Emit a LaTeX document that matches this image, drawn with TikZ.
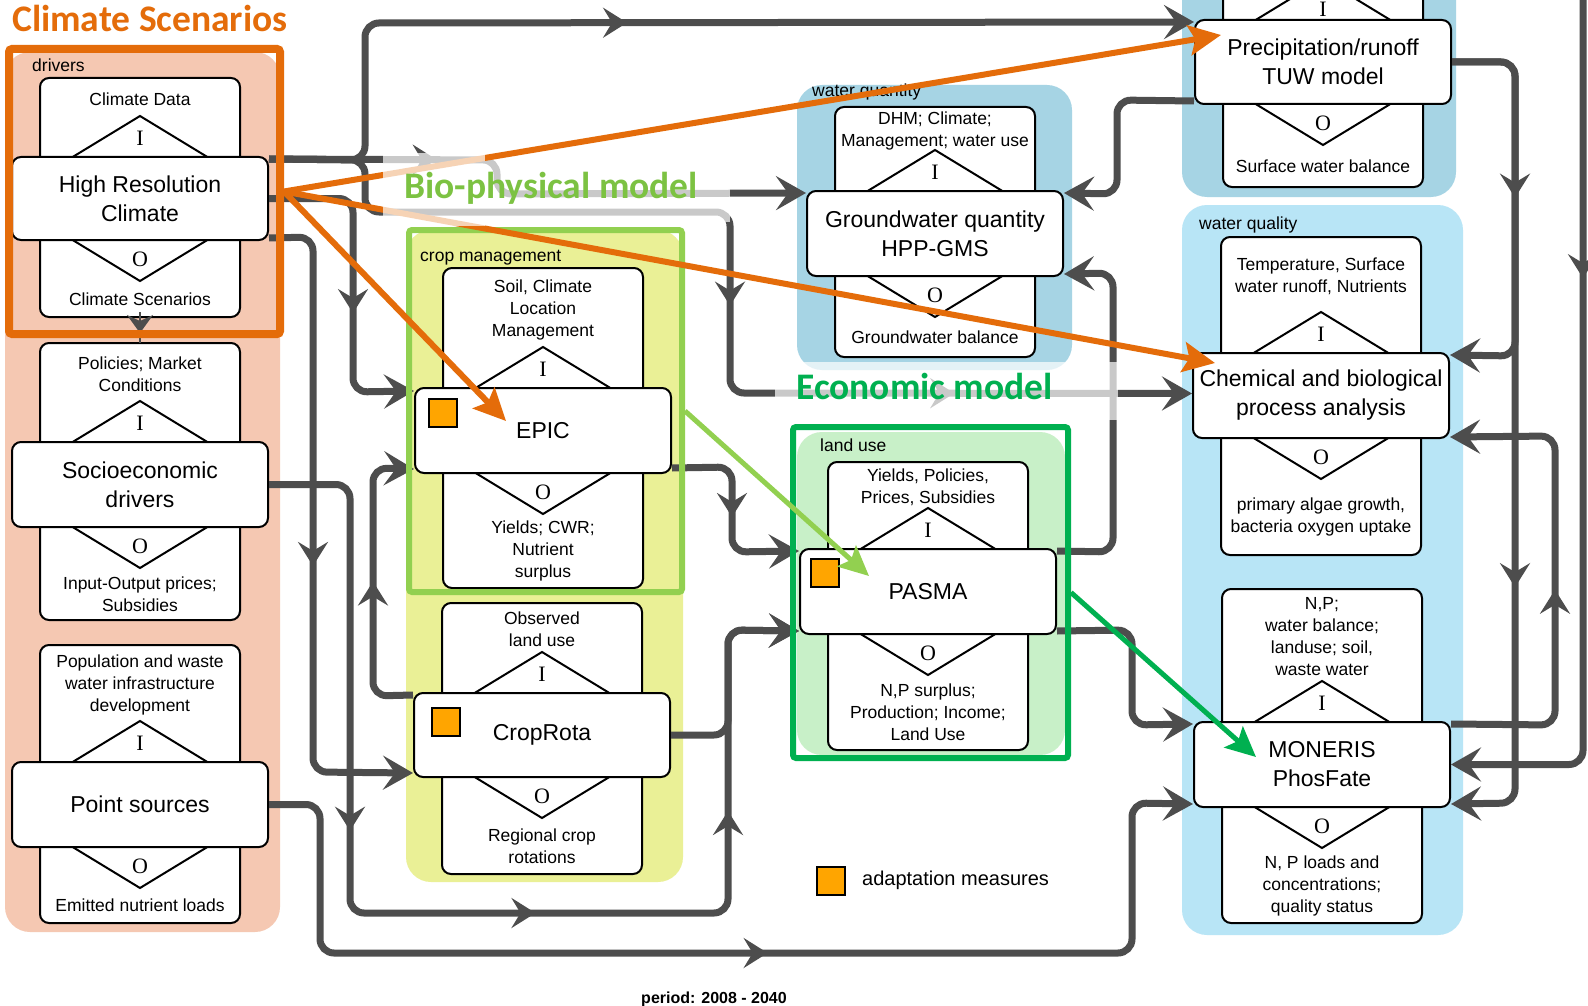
\documentclass[tikz,border=0pt]{standalone}
\usepackage{fontspec}
\setmainfont{Liberation Sans}
\newfontfamily\serifIO{Liberation Serif}
\newfontfamily\titlefam{Carlito}
\usetikzlibrary{arrows.meta,calc,decorations.markings}
\definecolor{lineg}{RGB}{77,77,77}
\definecolor{orng}{RGB}{228,108,10}
\definecolor{lgreen}{RGB}{146,208,80}
\definecolor{dgreen}{RGB}{0,176,80}
\definecolor{biotitle}{RGB}{124,194,66}
\definecolor{pinkc}{RGB}{245,200,178}
\definecolor{yelc}{RGB}{234,240,150}
\definecolor{bluec}{RGB}{166,212,228}
\definecolor{lbluec}{RGB}{184,229,246}
\definecolor{lgrnc}{RGB}{200,240,200}
\definecolor{adaptc}{RGB}{255,165,0}
\newcommand\mainsz{\fontsize{23}{29}\selectfont}
\newcommand\smallsz{\fontsize{17.5}{22}\selectfont}
\newcommand\iosz{\serifIO\fontsize{22}{24}\selectfont}
\newcommand\legsz{\fontsize{20}{24}\selectfont}
\newcommand\titlesz{\titlefam\bfseries\fontsize{37.5}{40}\selectfont}
\tikzset{
  grpbg/.style={fill=#1, draw=none, rounded corners=25pt, inner sep=0pt, outer sep=0pt},
  outerbox/.style={draw=black, line width=2pt, fill=white, rounded corners=9pt},
  widebox/.style={draw=black, line width=2pt, fill=white, rounded corners=9pt, minimum width=256pt, inner sep=0pt, align=center, font=\mainsz},
  diam/.style={draw=black, line width=2pt},
  smalltxt/.style={align=center, font=\smallsz, inner sep=0pt},
  iolbl/.style={font=\iosz, inner sep=0pt},
  grplbl/.style={font=\smallsz, anchor=base west, inner sep=0pt},
  conn/.style={draw=lineg, line width=7pt, rounded corners=14pt, -{Stealth[length=30pt,width=34pt,inset=12pt]}},
  midarr/.style={postaction={decorate, decoration={markings, mark=at position #1 with {\arrow[color=lineg]{Stealth[length=24pt,width=30pt,inset=9pt]}}}}},
  oarrow/.style={draw=orng, line width=6pt, -{Stealth[length=32pt,width=30pt,inset=6pt]}},
  garrow/.style={line width=5pt, -{Stealth[length=30pt,width=28pt,inset=6pt]}},
  adapt/.style={draw=black, line width=2pt, fill=adaptc, minimum size=28pt, inner sep=0pt},
  framebox/.style={draw=#1, inner sep=0pt, rounded corners=3pt},
  fadebox/.style={fill=white, fill opacity=0.7}
}
% #1 name, #2 cx, #3 outer top, #4 outer bottom, #5 wide top, #6 wide bottom, #7 main, #8 input, #9 output
\newcommand{\modbox}[9]{%
  \draw[outerbox] ({#2-100},#3) rectangle ({#2+100},#4);
  \coordinate (#1-ot) at (#2,#3);
  \coordinate (#1-ob) at (#2,#4);
  \draw[diam] ({#2-69},{#5+1}) -- (#2,{#5-41}) -- ({#2+69},{#5+1});
  \draw[diam] ({#2-69},{#6-1}) -- (#2,{#6+41}) -- ({#2+69},{#6-1});
  \node[widebox, minimum height={(#6-#5)*1pt}] (#1) at (#2,{(#5+#6)/2}) {#7};
  \node[iolbl] (#1-i) at (#2,{max(#5-19,9)}) {I};
  \node[iolbl] (#1-o) at (#2,{#6+19}) {O};
  \node[smalltxt] (#1-in) at (#2,{(#3+#5-41)/2+2}) {#8};
  \node[smalltxt] (#1-out) at (#2,{(#6+41+#4)/2}) {#9};
}
\begin{document}
\begin{tikzpicture}[x=1pt,y=-1pt]
\useasboundingbox (0,0) rectangle (1588,1006);
\clip (0,0) rectangle (1588,1006);
\fill[white] (0,0) rectangle (1588,1006);

% group backgrounds
\node[grpbg=pinkc, minimum width=275pt, minimum height=880pt] (g-drivers) at (142.5,492) {};
\node[grpbg=yelc, minimum width=277pt, minimum height=652pt] (g-crop) at (544.5,556) {};
\node[grpbg=bluec, minimum width=275pt, minimum height=285pt] (g-wqty) at (934.5,227.5) {};
\node[grpbg=bluec, minimum width=274pt, minimum height=227pt] (g-prec) at (1319,83.5) {};
\node[grpbg=lbluec, minimum width=281pt, minimum height=730pt] (g-wqual) at (1322.5,570) {};
\node[grpbg=lgrnc, minimum width=268pt, minimum height=323pt] (g-land) at (931,593.5) {};

\node[grplbl] (l-drivers) at (32,72) {drivers};
\node[grplbl] (l-crop) at (420,261) {crop management};
\node[grplbl] (l-wqty) at (812,97) {water quantity};
\node[grplbl] (l-land) at (820,451) {land use};
\node[grplbl] (l-wqual) at (1199,229) {water quality};

% modules
\modbox{clim}{140}{78}{317}{157}{240}{High Resolution\\Climate}{Climate Data}{Climate Scenarios}
\modbox{socio}{140}{343}{620}{442}{527}{Socioeconomic\\drivers}{Policies; Market\\Conditions}{Input-Output prices;\\Subsidies}
\modbox{point}{140}{645}{923}{762}{847}{Point sources}{Population and waste\\water infrastructure\\development}{Emitted nutrient loads}
\modbox{epic}{543}{268}{588}{388}{473}{EPIC}{Soil, Climate\\Location\\Management}{Yields; CWR;\\Nutrient\\surplus}
\modbox{crop}{542}{603}{874}{693}{777}{CropRota}{Observed\\land use}{Regional crop\\rotations}
\modbox{gw}{935}{107}{357}{191}{276}{Groundwater quantity\\HPP-GMS}{DHM; Climate;\\Management; water use}{Groundwater balance}
\modbox{prec}{1323}{-40}{187}{20}{104}{Precipitation/runoff\\TUW model}{}{Surface water balance}
\modbox{chem}{1321}{237}{555}{353}{438}{Chemical and biological\\process analysis}{Temperature, Surface\\water runoff, Nutrients}{primary algae growth,\\bacteria oxygen uptake}
\modbox{mon}{1322}{589}{923}{722}{807}{MONERIS\\PhosFate}{N,P;\\water balance;\\landuse; soil,\\waste water}{N, P loads and\\concentrations;\\quality status}
\modbox{pasma}{928}{462}{750}{549}{634}{PASMA}{Yields, Policies,\\Prices, Subsidies}{N,P surplus;\\Production; Income;\\Land Use}

\node[adapt] (epic-sq) at (442.5,413) {};
\node[adapt] (crop-sq) at (446,722) {};
\node[adapt] (pasma-sq) at (824.5,572.5) {};

% connectors
\draw[conn, midarr=0.46] ($(clim.north east)+(0,3)$) -- (365,160) -- (365,23) -- ($(prec.north west)+(0,3)$);
\draw[conn, midarr=0.3] ($(clim.north east)+(0,3)$) -- (497,160) -- (497,194) -- ($(gw.north west)+(0,3)$);
\draw[conn, midarr=0.52, midarr=0.79] ($(clim.north east)+(0,3)$) -- (365,160) -- (365,212) -- (730,212) -- (730,393) -- ($(chem.west)+(0,-2)$);
\draw[conn, midarr=0.59] (clim.east) -- (353,198.5) -- (353,392) -- ($(epic.north west)+(0,4)$);
\draw[conn, midarr=0.55] ($(clim.south east)+(0,-3)$) -- (313,237) -- (313,772) -- ($(crop.south west)+(0,-5)$);
\draw[conn, midarr=0.346, midarr=0.561, midarr=0.798] (socio.east) -- (350,484.5) -- (350,913) -- (728,913) -- (728,630) -- ($(pasma.south west)+(0,-4)$);
\draw[conn] (crop.east) -- (728,735) -- (728,630) -- ($(pasma.south west)+(0,-4)$);
\draw[conn, midarr=0.5] ($(crop.north west)+(0,3)$) -- (373,696) -- (373,468) -- ($(epic.south west)+(0,-5)$);
\draw[conn, midarr=0.52] ($(epic.south east)+(0,-6)$) -- (732,467) -- (732,552) -- ($(pasma.north west)+(0,3)$);
\draw[conn] ($(pasma.north east)+(0,3)$) -- (1113,552) -- (1113,273) -- ($(gw.south east)+(0,-3)$);
\draw[conn] ($(pasma.south east)+(0,-4)$) -- (1132,630) -- (1132,725) -- ($(mon.north west)+(0,3)$);
\draw[conn, midarr=0.53] (point.east) -- (320,804.5) -- (320,953) -- (1132,953) -- (1132,803) -- ($(mon.south west)+(0,-4)$);
\draw[conn] ($(prec.south west)+(0,-4)$) -- (1117,100) -- (1117,194) -- ($(gw.north east)+(0,3)$);
\draw[conn, midarr=0.47] (prec.east) -- (1515,62) -- (1515,356) -- ($(chem.north east)+(0,3)$);
\draw[conn, midarr=0.68] (prec.east) -- (1515,62) -- (1515,803) -- ($(mon.south east)+(0,-4)$);
\draw[conn, midarr=0.48] ($(mon.north east)+(0,3)$) -- (1555,725) -- (1555,436) -- ($(chem.south east)+(0,-2)$);
\coordinate (ext) at (1583,-10);
\draw[conn, midarr=0.32] (ext) -- (1583,764.5) -- (mon.east);
\draw[draw=lineg, line width=2pt] (clim-ob) -- (socio-ot);
\draw[draw=lineg, line width=2pt, -{Stealth[length=18pt,width=26pt,inset=6pt]}] ($(clim-ob)+(0,-5)$) -- ($(clim-ob)+(0,16)$);

% frames
\node[framebox=orng, line width=8pt, minimum width=271pt, minimum height=285pt] (climframe) at (144.5,191.5) {};
\node[framebox=lgreen, line width=6pt, minimum width=273pt, minimum height=362pt] (bioframe) at (545.5,411) {};
\node[framebox=dgreen, line width=6pt, minimum width=275pt, minimum height=331pt] (ecoframe) at (930.5,592.5) {};

% faded title areas (behind colored arrows)
\fill[fadebox] (485,153) rectangle (730,222);
\fill[fadebox] (775,362) rectangle (1118,420);

% scenario arrows
\draw[oarrow] (climframe.east) -- ($(prec.north west)+(27,16)$);
\draw[oarrow] (climframe.east) -- ($(chem.north west)+(23,11)$);
\draw[oarrow] (climframe.east) -- ($(epic.north west)+(92,34)$);
\draw[garrow, draw=lgreen] (bioframe.east) -- ($(pasma.north west)+(70,28)$);
\draw[garrow, draw=dgreen] (ecoframe.east) -- ($(mon.north west)+(63,36)$);

\fill[fadebox] (383,153) rectangle (485,226);

% titles
\node[anchor=base west, inner sep=0pt, font=\titlesz, text=orng] (t-clim) at (12,32) {Climate Scenarios};
\node[anchor=base west, inner sep=0pt, font=\titlesz, text=biotitle] (t-bio) at (404,198) {Bio-physical model};
\node[anchor=base west, inner sep=0pt, font=\titlesz, text=dgreen] (t-eco) at (796,399) {Economic model};

% legend
\node[adapt] (legsq) at (830.5,880.5) {};
\node[anchor=base west, inner sep=0pt, font=\legsz] (legtxt) at (862,885) {adaptation measures};
\node[anchor=base, inner sep=0pt, font=\bfseries\fontsize{16}{18}\selectfont] (period) at (714,1003) {period: 2008 - 2040};
\end{tikzpicture}
\end{document}
